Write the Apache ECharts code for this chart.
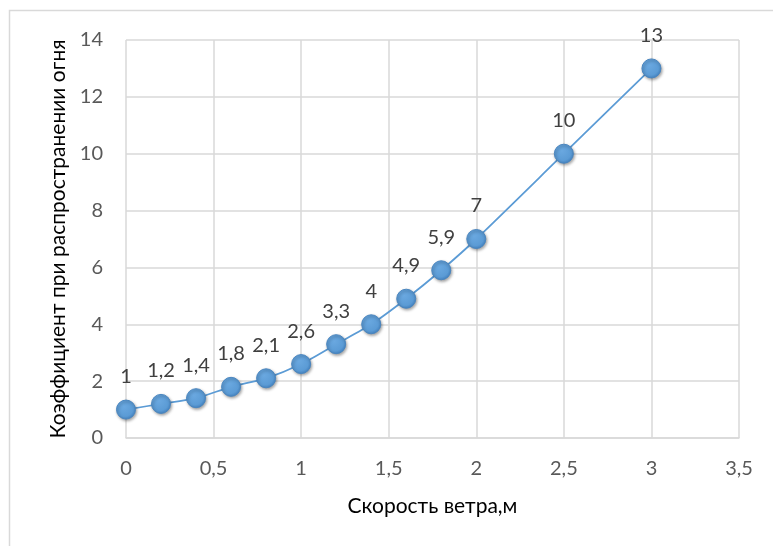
<!DOCTYPE html>
<html>
<head>
<meta charset="utf-8">
<script src="https://cdn.jsdelivr.net/npm/echarts@6/dist/echarts.min.js"></script>
<style>
  html, body { margin: 0; padding: 0; background: #fff; }
  #chart { width: 773px; height: 546px; }
</style>
</head>
<body>
<div id="chart"></div>
<script>
// Wind speed (x) and fire spread coefficient (y)
const windSpeed = [0, 0.2, 0.4, 0.6, 0.8, 1, 1.2, 1.4, 1.6, 1.8, 2, 2.5, 3];
const spreadCoef = [1, 1.2, 1.4, 1.8, 2.1, 2.6, 3.3, 4, 4.9, 5.9, 7, 10, 13];

const xTitle = 'Скорость ветра,м';
const yTitle = 'Коэффициент при распространении огня';

const FONT = 'Lato, "Open Sans", sans-serif';
const fmtComma = v => String(v).replace('.', ',');

const chart = echarts.init(document.getElementById('chart'), null, { renderer: 'canvas' });

chart.setOption({
  backgroundColor: '#ffffff',
  animation: false,
  graphic: [{
    type: 'rect',
    shape: { x: 9.5, y: 10.5, width: 900, height: 700 },
    style: { fill: 'none', stroke: '#d9d9d9', lineWidth: 1.5 },
    silent: true
  }],
  grid: { left: 126, right: 34, top: 40, bottom: 108, containLabel: false },
  xAxis: {
    type: 'value',
    min: 0, max: 3.5, interval: 0.5,
    name: xTitle,
    nameLocation: 'middle',
    nameGap: 58,
    nameTextStyle: { color: '#000', fontSize: 21, fontFamily: FONT },
    axisLine: { show: true, lineStyle: { color: '#d9d9d9', width: 1.5 } },
    axisTick: { show: false },
    axisLabel: { color: '#595959', fontSize: 20, fontFamily: FONT, margin: 21, formatter: fmtComma },
    splitLine: { show: true, lineStyle: { color: '#d9d9d9', width: 1.5 } }
  },
  yAxis: {
    type: 'value',
    min: 0, max: 14, interval: 2,
    name: yTitle,
    nameLocation: 'middle',
    nameGap: 56,
    nameRotate: 90,
    nameTextStyle: { color: '#000', fontSize: 21, fontFamily: FONT },
    axisLine: { show: false },
    axisTick: { show: false },
    axisLabel: { color: '#595959', fontSize: 20, fontFamily: FONT, margin: 23, formatter: fmtComma },
    splitLine: { show: true, lineStyle: { color: '#d9d9d9', width: 1.5 } }
  },
  series: [{
    type: 'line',
    data: windSpeed.map((x, i) => [x, spreadCoef[i]]),
    smooth: 0.25,
    symbol: 'circle',
    symbolSize: 19,
    lineStyle: { color: '#5b9bd5', width: 1.75 },
    itemStyle: {
      color: {
        type: 'radial', x: 0.4, y: 0.35, r: 0.7,
        colorStops: [
          { offset: 0, color: '#6aa8e0' },
          { offset: 0.7, color: '#5b9bd5' },
          { offset: 1, color: '#3f7fbf' }
        ]
      },
      borderColor: '#4a86c0',
      borderWidth: 1,
      shadowColor: 'rgba(0,0,0,0.35)',
      shadowBlur: 3,
      shadowOffsetX: 1,
      shadowOffsetY: 1.5
    },
    label: {
      show: true,
      position: 'top',
      distance: 13,
      color: '#404040',
      fontSize: 20,
      fontFamily: FONT,
      formatter: p => fmtComma(p.value[1])
    }
  }]
});
</script>
</body>
</html>
